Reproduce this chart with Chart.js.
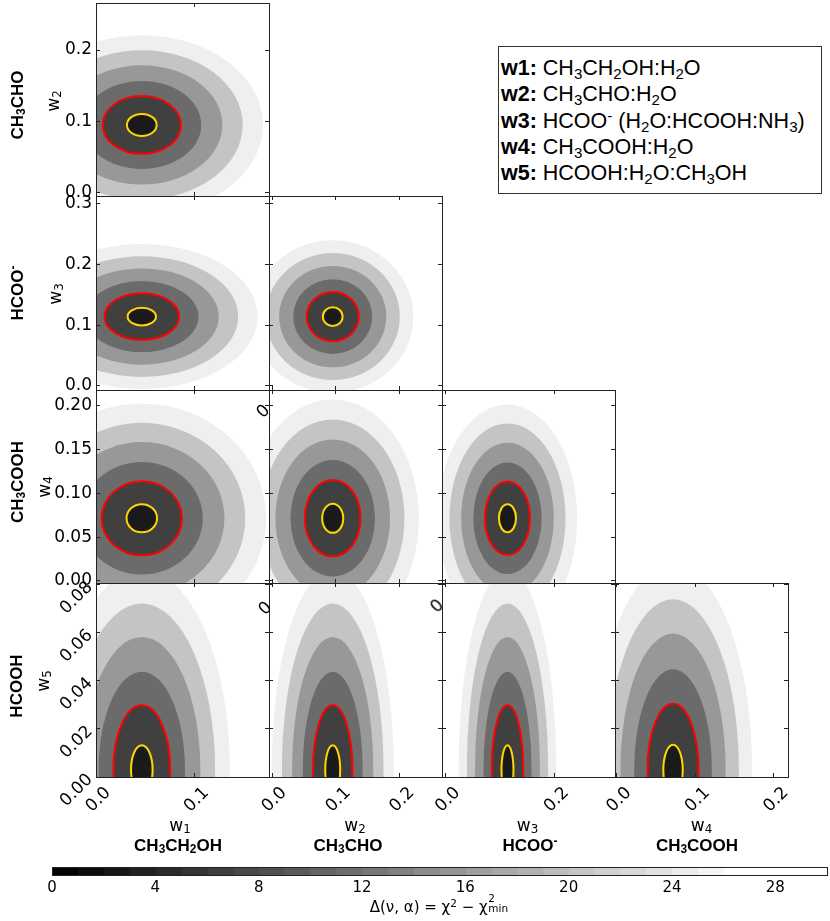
<!DOCTYPE html>
<html>
<head>
<meta charset="utf-8">
<script src="https://cdn.jsdelivr.net/npm/chart.js@4.4.0/dist/chart.umd.min.js"></script>
<style>
  body { margin: 0; background: #fff; }
  #fig { position: relative; width: 830px; height: 921px; overflow: hidden; background: #fff; }
  #fig canvas { position: absolute; }
  .txt { position: absolute; white-space: nowrap; line-height: 1; color: #000; }
  .math { font-family: 'DejaVu Sans'; font-size: 17px; }
  .cbl { font-family: 'DejaVu Sans'; font-size: 15px; }
  .chem { font-family: 'Liberation Sans'; font-weight: bold; font-size: 17px; }
  .tick0 { font-family: 'DejaVu Sans'; font-size: 17px; }
  sub { font-size: 0.7em; vertical-align: -0.25em; line-height: 0; }
  sup { font-size: 0.7em; vertical-align: 0.45em; line-height: 0; }
  #legend { position: absolute; left: 498px; top: 46px; width: 324px; height: 148px; box-sizing: border-box;
            border: 1px solid #333; padding: 8px 0 0 2px; font-family: 'Liberation Sans'; font-size: 21.5px; line-height: 26.3px; }
  #legend b { font-weight: bold; }
  .ss { position: relative; display: inline-block; width: 1.5em; height: 1em; }
  .ss span { position: absolute; left: 0.05em; font-size: 0.7em; }
</style>
</head>
<body>
<div id="fig"><div id="legend"></div></div>
<script>
// parameters w1..w5 and their species
const PARAM_NUM = [1, 2, 3, 4, 5];
const SPECIES = ['CH<sub>3</sub>CH<sub>2</sub>OH', 'CH<sub>3</sub>CHO', 'HCOO<sup>-</sup>', 'CH<sub>3</sub>COOH', 'HCOOH'];
const LEGEND_TEXT = [
  'CH<sub>3</sub>CH<sub>2</sub>OH:H<sub>2</sub>O',
  'CH<sub>3</sub>CHO:H<sub>2</sub>O',
  'HCOO<sup>-</sup> (H<sub>2</sub>O:HCOOH:NH<sub>3</sub>)',
  'CH<sub>3</sub>COOH:H<sub>2</sub>O',
  'HCOOH:H<sub>2</sub>O:CH<sub>3</sub>OH'
];

// axis ranges and tick steps per parameter
const AXIS_MIN = [0, -0.0047, -0.0066, -0.0023, 0];
const AXIS_MAX = [0.176, 0.266, 0.312, 0.218, 0.0807];
const X_TICK_STEP = [0.1, 0.1, 0.2, 0.1];
const Y_TICK_STEP = [null, 0.1, 0.1, 0.05, 0.02];

// best fit weights (contour centres)
const BEST = [0.0466, 0.095, 0.114, 0.0716, 0.003];

// semi-axes of the red contour per panel (row = w2..w5, col = w1..w4)
const RED_SX = [
  [0.0398],
  [0.0380, 0.0407],
  [0.0408, 0.0435, 0.0414],
  [0.0289, 0.0308, 0.0290, 0.0325]
];
const RED_SY = [
  [0.0406],
  [0.0384, 0.0404],
  [0.0422, 0.0437, 0.0419],
  [0.0268, 0.0268, 0.0268, 0.0275]
];

// contour levels as multiples of the red contour, inner to outer
const LEVEL_RADII = [0.38, 1, 1.52, 2.06, 2.58, 3.1];
const BAND_FILL = ['#1a1a1a', '#404040', '#6b6b6b', '#989898', '#c4c4c4', '#efefef'];

// colour bar
const CBAR_LEVELS = [0, 1, 2, 3, 4, 5, 6, 7, 8, 9, 10, 11, 12, 13, 14, 15, 16, 17, 18, 19, 20,
                     21, 22, 23, 24, 25, 26, 27, 28, 29, 30];
const CBAR_TICK_STEP = 4;

const COL_EDGES = [96, 269, 442, 615, 788];
const ROW_EDGES = [3, 196, 390, 583, 777];
const PAD = 70;
const FRAME = '#222';
const fig = document.getElementById('fig');

function grayAt(v) {
  const g = Math.min(255, Math.round(255 * (v + 0.3) / 26.3));
  return `rgb(${g},${g},${g})`;
}

function addText(html, cx, cy, cls, rot) {
  const d = document.createElement('div');
  d.className = 'txt ' + cls;
  d.innerHTML = html;
  d.style.left = cx + 'px';
  d.style.top = cy + 'px';
  d.style.transform = `translate(-50%, -50%) rotate(${rot || 0}deg)`;
  fig.appendChild(d);
}

function makeCanvas(left, top, w, h) {
  const c = document.createElement('canvas');
  c.width = w; c.height = h;
  c.style.left = left + 'px';
  c.style.top = top + 'px';
  c.style.width = w + 'px';
  c.style.height = h + 'px';
  fig.appendChild(c);
  return c;
}

// every axis box gets exactly the margin size, so the plot area lands on the panel
function fitTo(size) {
  return s => {
    if (s.isHorizontal()) s.height = size; else s.width = size;
    s.paddingLeft = s.paddingRight = s.paddingTop = s.paddingBottom = 0;
  };
}

function axis(pos, idx, step, showLabels, rot) {
  const dec = step < 0.1 ? 2 : 1;
  const horiz = pos === 'top' || pos === 'bottom';
  return {
    type: 'linear', position: pos, min: AXIS_MIN[idx], max: AXIS_MAX[idx],
    afterFit: fitTo(PAD),
    grid: { drawOnChartArea: false, drawTicks: true, tickLength: -4, color: FRAME, lineWidth: 1, z: 1 },
    border: { display: true, color: FRAME, width: 1, z: 1 },
    ticks: {
      display: showLabels, stepSize: step, includeBounds: false, autoSkip: false,
      minRotation: rot, maxRotation: rot,
      padding: horiz ? 10 : (rot ? 10 : 8),
      labelOffset: horiz && rot ? 12 : 0,
      color: '#000', font: { family: 'DejaVu Sans', size: 17 },
      callback: v => Number(v).toFixed(dec)
    }
  };
}

function contourPlugin(sx, sy) {
  return {
    id: 'contours',
    beforeDatasetsDraw(chart) {
      const { ctx, chartArea: a } = chart;
      const xs = chart.scales.x, ys = chart.scales.y;
      const pt = chart.data.datasets[0].data[0];
      const px = xs.getPixelForValue(pt.x), py = ys.getPixelForValue(pt.y);
      const radii = k => [
        Math.abs(xs.getPixelForValue(pt.x + sx * LEVEL_RADII[k]) - px),
        Math.abs(ys.getPixelForValue(pt.y + sy * LEVEL_RADII[k]) - py)
      ];
      ctx.save();
      ctx.beginPath();
      ctx.rect(a.left, a.top, a.right - a.left, a.bottom - a.top);
      ctx.clip();
      for (let k = LEVEL_RADII.length - 1; k >= 0; k--) {
        const [rx, ry] = radii(k);
        ctx.beginPath();
        ctx.ellipse(px, py, rx, ry, 0, 0, Math.PI * 2);
        ctx.fillStyle = BAND_FILL[k];
        ctx.fill();
      }
      [[1, '#ff0000'], [0, '#ffd700']].forEach(([k, col]) => {
        const [rx, ry] = radii(k);
        ctx.beginPath();
        ctx.ellipse(px, py, rx, ry, 0, 0, Math.PI * 2);
        ctx.strokeStyle = col;
        ctx.lineWidth = 2;
        ctx.stroke();
      });
      ctx.restore();
    }
  };
}

function addPanel(r, c) {
  const xi = c, yi = r + 1;
  const left = COL_EDGES[c], right = COL_EDGES[c + 1];
  const top = ROW_EDGES[r], bottom = ROW_EDGES[r + 1];
  const canvas = makeCanvas(left - PAD, top - PAD, right - left + 2 * PAD, bottom - top + 2 * PAD);
  new Chart(canvas, {
    type: 'scatter',
    data: { datasets: [{ data: [{ x: BEST[xi], y: BEST[yi] }], pointRadius: 0 }] },
    options: {
      responsive: false, animation: false, events: [],
      layout: { padding: 0 },
      plugins: { legend: { display: false }, tooltip: { enabled: false } },
      scales: {
        x: axis('bottom', xi, X_TICK_STEP[xi], r === 3, 45),
        x2: axis('top', xi, X_TICK_STEP[xi], false, 0),
        y: axis('left', yi, Y_TICK_STEP[yi], c === 0, yi === 4 ? 45 : 0),
        y2: axis('right', yi, Y_TICK_STEP[yi], false, 0)
      }
    },
    plugins: [contourPlugin(RED_SX[r][c], RED_SY[r][c])]
  });
}

for (let r = 0; r < 4; r++) {
  for (let c = 0; c <= r; c++) addPanel(r, c);
}

// stray rotated tick glyphs left over at some panel corners
[[263, 411], [265, 608], [437, 606]].forEach(([x, y]) => addText('0', x, y, 'tick0', -45));

// axis titles
const Y_TITLE_POS = [[53, 101, 17, 105], [55, 293.5, 17, 293], [43.5, 486.5, 17, 482], [43, 681, 16, 686]];
for (let r = 0; r < 4; r++) {
  const [wx, wy, sx, sy] = Y_TITLE_POS[r];
  addText('w<sub>' + PARAM_NUM[r + 1] + '</sub>', wx, wy, 'math', -90);
  addText(SPECIES[r + 1], sx, sy, 'chem', -90);
}
const X_TITLE_POS = [[180, 178], [355, 348], [527.5, 530], [701.5, 697]];
for (let c = 0; c < 4; c++) {
  const [wx, sx] = X_TITLE_POS[c];
  addText('w<sub>' + PARAM_NUM[c] + '</sub>', wx, 825, 'math', 0);
  addText(SPECIES[c], sx, 845, 'chem', 0);
}

// legend
document.getElementById('legend').innerHTML = LEGEND_TEXT
  .map((t, i) => `<div><b>w${PARAM_NUM[i]}:</b> ${t}</div>`).join('');

// colour bar
(function () {
  const L = 52, R = 827, T = 867, B = 875, P = 40;
  const canvas = makeCanvas(L - P, T - P, R - L + 2 * P, B - T + 2 * P);
  const segs = CBAR_LEVELS.slice(0, -1);
  const edgeAxis = pos => ({
    type: 'linear', position: pos, afterFit: fitTo(P), min: 0, max: 1,
    grid: { drawOnChartArea: false, drawTicks: false },
    border: { display: true, color: FRAME, width: 1, z: 1 },
    ticks: { display: false }
  });
  new Chart(canvas, {
    type: 'bar',
    data: {
      labels: [''],
      datasets: segs.map((v, i) => ({
        data: [[v, CBAR_LEVELS[i + 1]]],
        backgroundColor: grayAt(v),
        borderWidth: 0, barPercentage: 1, categoryPercentage: 1, grouped: false
      }))
    },
    options: {
      indexAxis: 'y', responsive: false, animation: false, events: [],
      layout: { padding: 0 },
      plugins: { legend: { display: false }, tooltip: { enabled: false } },
      scales: {
        x: {
          type: 'linear', position: 'bottom', min: CBAR_LEVELS[0], max: CBAR_LEVELS[CBAR_LEVELS.length - 1],
          afterFit: fitTo(P),
          grid: { drawOnChartArea: false, drawTicks: false },
          border: { display: true, color: FRAME, width: 1, z: 1 },
          ticks: { stepSize: CBAR_TICK_STEP, includeBounds: false, padding: 4, maxRotation: 0,
                   color: '#000', font: { family: 'DejaVu Sans', size: 15 } }
        },
        x2: edgeAxis('top'),
        y: { type: 'category', position: 'left', afterFit: fitTo(P),
             grid: { drawOnChartArea: false, drawTicks: false },
             border: { display: true, color: FRAME, width: 1, z: 1 },
             ticks: { display: false } },
        y2: edgeAxis('right')
      }
    }
  });
})();
addText('Δ(ν, α) = χ<sup>2</sup> − χ<span class="ss"><span style="top:-0.35em">2</span><span style="top:0.55em">min</span></span>',
        440, 906, 'cbl', 0);
</script>
</body>
</html>
